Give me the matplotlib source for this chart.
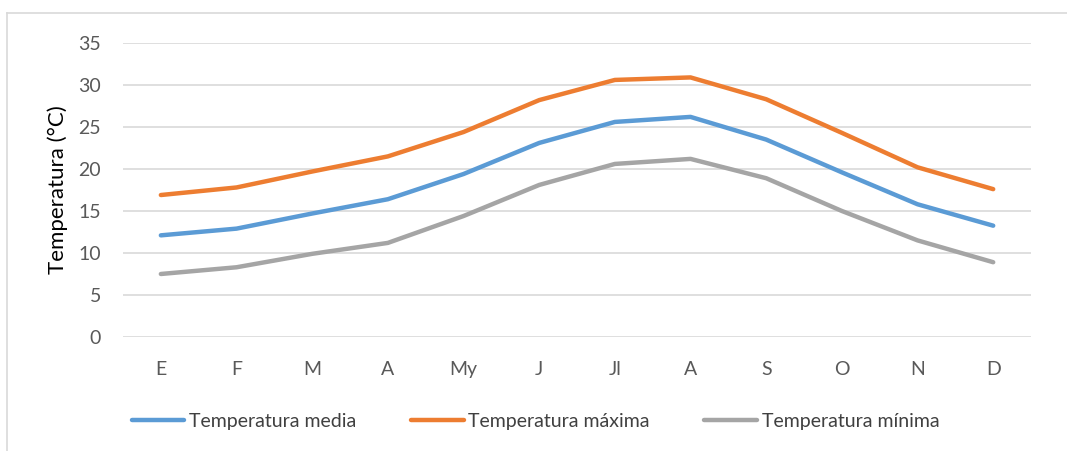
import matplotlib.pyplot as plt
from matplotlib.lines import Line2D

# datos
meses = ['E', 'F', 'M', 'A', 'My', 'J', 'Jl', 'A', 'S', 'O', 'N', 'D']
t_media = [12.1, 12.9, 14.7, 16.4, 19.4, 23.1, 25.6, 26.2, 23.5, 19.6, 15.8, 13.25]
t_maxima = [16.9, 17.8, 19.7, 21.5, 24.4, 28.2, 30.6, 30.9, 28.3, 24.3, 20.2, 17.6]
t_minima = [7.5, 8.3, 9.9, 11.2, 14.4, 18.1, 20.6, 21.2, 18.9, 15.0, 11.5, 8.9]
yticks = [0, 5, 10, 15, 20, 25, 30, 35]

plt.rcParams['font.family'] = ['Lato', 'DejaVu Sans']

fig = plt.figure(figsize=(10.67, 4.51), dpi=100)
ax = fig.add_axes([0.1153, 0.2528, 0.8510, 0.6519])

x = range(len(meses))
ax.plot(x, t_media, color='#5B9BD5', lw=3.2, label='Temperatura media', solid_capstyle='round')
ax.plot(x, t_maxima, color='#ED7D31', lw=3.2, label='Temperatura máxima', solid_capstyle='round')
ax.plot(x, t_minima, color='#A5A5A5', lw=3.2, label='Temperatura mínima', solid_capstyle='round')

ax.set_xlim(-0.5, 11.5)
ax.set_ylim(0, 35)
ax.set_yticks(yticks)
ax.set_xticks(list(x))
ax.set_xticklabels(meses)
ax.grid(axis='y', color='#D9D9D9', lw=1.2)
ax.set_axisbelow(True)
for s in ax.spines.values():
    s.set_visible(False)
ax.tick_params(length=0, labelsize=14, colors='#595959')
ax.tick_params(axis='x', pad=17)
ax.tick_params(axis='y', pad=16)
ax.set_ylabel('Temperatura (°C)', fontsize=16, color='black', labelpad=7)

# borde del área del gráfico
fig.add_artist(Line2D([7/1067, 1], [1-13/451, 1-13/451], color='#D9D9D9', lw=1.2))
fig.add_artist(Line2D([7/1067, 7/1067], [0, 1-13/451], color='#D9D9D9', lw=1.2))

leg = ax.legend(loc='center', bbox_to_anchor=(0.502, 0.066), bbox_transform=fig.transFigure,
                ncol=3, frameon=False, prop={'size': 14},
                handlelength=2.7, handletextpad=0.25, columnspacing=2.8,
                labelcolor='#404040')

plt.savefig('out.png', dpi=100)
